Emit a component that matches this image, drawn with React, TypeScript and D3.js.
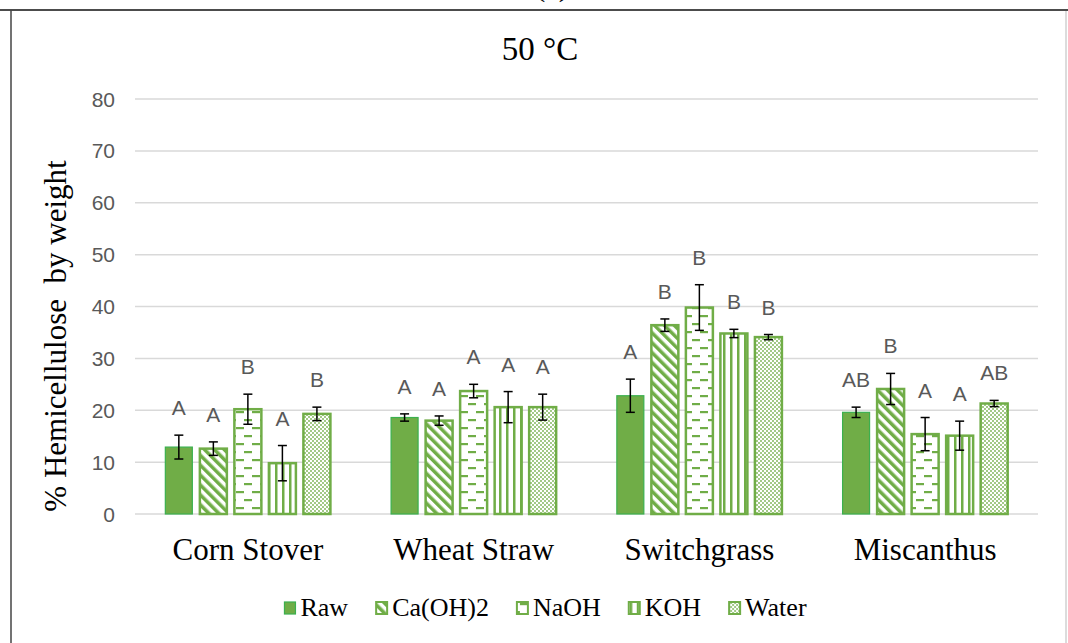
import * as d3 from 'd3';
import { useRef, useEffect } from 'react';

// feedstocks and pretreatments
const categories = ['Corn Stover', 'Wheat Straw', 'Switchgrass', 'Miscanthus'];
const treatments = ['Raw', 'Ca(OH)2', 'NaOH', 'KOH', 'Water'];

// % hemicellulose by weight, one array per pretreatment (same order as categories)
const rawValues = [12.9, 18.6, 22.8, 19.6];
const caValues = [12.6, 18.0, 36.4, 24.1];
const naohValues = [20.2, 23.7, 39.8, 15.4];
const kohValues = [9.8, 20.6, 34.8, 15.1];
const waterValues = [19.3, 20.6, 34.1, 21.3];

// error bar half widths
const rawErr = [2.3, 0.7, 3.2, 1.0];
const caErr = [1.3, 0.9, 1.2, 3.0];
const naohErr = [2.9, 1.3, 4.4, 3.2];
const kohErr = [3.4, 3.0, 0.8, 2.8];
const waterErr = [1.3, 2.5, 0.5, 0.6];

// significance letters
const rawLetters = ['A', 'A', 'A', 'AB'];
const caLetters = ['A', 'A', 'B', 'B'];
const naohLetters = ['B', 'A', 'B', 'A'];
const kohLetters = ['A', 'A', 'B', 'A'];
const waterLetters = ['B', 'A', 'B', 'AB'];

const yTicks = [0, 10, 20, 30, 40, 50, 60, 70, 80];

const GREEN = '#70AD47';

const App = () => {
    const ref = useRef<SVGSVGElement>(null);

    useEffect(() => {
        if (!ref.current) return;
        const svg = d3.select(ref.current);
        svg.selectAll('*').remove();

        const width = 1068, height = 643;
        const plot = { left: 135, right: 1038, top: 99, bottom: 514 };

        const values = [rawValues, caValues, naohValues, kohValues, waterValues];
        const errs = [rawErr, caErr, naohErr, kohErr, waterErr];
        const letters = [rawLetters, caLetters, naohLetters, kohLetters, waterLetters];

        const rows = categories.flatMap((c, ci) => treatments.map((t, ti) => ({
            cat: c, tr: t, ti,
            v: values[ti][ci], e: errs[ti][ci], l: letters[ti][ci],
        })));

        // patterns
        const defs = svg.append('defs');
        const pCa = defs.append('pattern').attr('id', 'p-ca').attr('patternUnits', 'userSpaceOnUse')
            .attr('width', 7).attr('height', 7).attr('patternTransform', 'rotate(-45)');
        pCa.append('rect').attr('width', 7).attr('height', 7).attr('fill', '#fff');
        pCa.append('rect').attr('width', 3.5).attr('height', 7).attr('fill', GREEN);

        const pNa = defs.append('pattern').attr('id', 'p-naoh').attr('patternUnits', 'userSpaceOnUse')
            .attr('width', 16).attr('height', 16);
        pNa.append('rect').attr('width', 16).attr('height', 16).attr('fill', '#fff');
        pNa.append('rect').attr('x', 4).attr('y', 3).attr('width', 8).attr('height', 2.2).attr('fill', GREEN);
        pNa.append('rect').attr('x', 12).attr('y', 11).attr('width', 4).attr('height', 2.2).attr('fill', GREEN);
        pNa.append('rect').attr('x', 0).attr('y', 11).attr('width', 4).attr('height', 2.2).attr('fill', GREEN);

        const pK = defs.append('pattern').attr('id', 'p-koh').attr('patternUnits', 'userSpaceOnUse')
            .attr('width', 7).attr('height', 7);
        pK.append('rect').attr('width', 7).attr('height', 7).attr('fill', '#fff');
        pK.append('rect').attr('x', 2).attr('width', 2.5).attr('height', 7).attr('fill', GREEN);

        const pW = defs.append('pattern').attr('id', 'p-water').attr('patternUnits', 'userSpaceOnUse')
            .attr('width', 4).attr('height', 4);
        pW.append('rect').attr('width', 4).attr('height', 4).attr('fill', '#fff');
        pW.append('rect').attr('width', 2).attr('height', 2).attr('fill', GREEN).attr('opacity', 0.65);
        pW.append('rect').attr('x', 2).attr('y', 2).attr('width', 2).attr('height', 2).attr('fill', GREEN).attr('opacity', 0.65);

        const fills = [GREEN, 'url(#p-ca)', 'url(#p-naoh)', 'url(#p-koh)', 'url(#p-water)'];
        const strokes = ['#3BB04F', GREEN, GREEN, GREEN, GREEN];

        // frame
        svg.append('rect').attr('width', width).attr('height', height).attr('fill', '#fff');
        svg.append('line').attr('x1', 0).attr('x2', width).attr('y1', 10).attr('y2', 10)
            .attr('stroke', '#111').attr('stroke-width', 1.5);
        svg.append('line').attr('x1', 11).attr('x2', 11).attr('y1', 10).attr('y2', height)
            .attr('stroke', '#444').attr('stroke-width', 1.5);
        svg.append('line').attr('x1', 1066).attr('x2', 1066).attr('y1', 11).attr('y2', height)
            .attr('stroke', '#d0d0d0').attr('stroke-width', 1.5);

        // panel label, cut off by the top edge as in the source figure
        svg.append('text').attr('x', 552).attr('y', -4).attr('text-anchor', 'middle')
            .style('font-family', '"Liberation Serif", "Times New Roman", serif').style('font-size', '30px')
            .text('(a)');

        const x0 = d3.scaleBand<string>().domain(categories).range([plot.left, plot.right]).padding(0);
        const x1 = d3.scaleBand<string>().domain(treatments).range([0, x0.bandwidth()])
            .paddingInner(0.16).paddingOuter(0.85);
        const y = d3.scaleLinear().domain([0, 80]).range([plot.bottom, plot.top]);

        // grid
        svg.append('g').selectAll('line').data(yTicks).enter().append('line')
            .attr('x1', plot.left).attr('x2', plot.right)
            .attr('y1', d => y(d)).attr('y2', d => y(d))
            .attr('stroke', '#D9D9D9').attr('stroke-width', 1.5);

        const sans = '"Liberation Sans", Arial, sans-serif';
        svg.append('g').selectAll('text').data(yTicks).enter().append('text')
            .attr('x', 115).attr('y', d => y(d)).attr('dy', '0.36em').attr('text-anchor', 'end')
            .style('font-family', sans).style('font-size', '21px')
            .style('fill', '#595959').text(d => d);

        // bars
        const serif = '"Liberation Serif", "Times New Roman", serif';
        svg.append('g').selectAll('rect').data(rows).enter().append('rect')
            .attr('x', d => x0(d.cat)! + x1(d.tr)! + 1)
            .attr('y', d => y(d.v))
            .attr('width', x1.bandwidth() - 2)
            .attr('height', d => plot.bottom - y(d.v))
            .attr('fill', d => fills[d.ti])
            .attr('stroke', d => strokes[d.ti])
            .attr('stroke-width', d => d.ti === 0 ? 1.2 : 2.5);

        // error bars
        const eb = svg.append('g').attr('stroke', '#000').attr('stroke-width', 1.5);
        rows.forEach(d => {
            const cx = x0(d.cat)! + x1(d.tr)! + x1.bandwidth() / 2;
            eb.append('line').attr('x1', cx).attr('x2', cx).attr('y1', y(d.v + d.e)).attr('y2', y(d.v - d.e));
            eb.append('line').attr('x1', cx - 4.5).attr('x2', cx + 4.5).attr('y1', y(d.v + d.e)).attr('y2', y(d.v + d.e));
            eb.append('line').attr('x1', cx - 4.5).attr('x2', cx + 4.5).attr('y1', y(d.v - d.e)).attr('y2', y(d.v - d.e));
        });

        // letters
        svg.append('g').selectAll('text').data(rows).enter().append('text')
            .attr('x', d => x0(d.cat)! + x1(d.tr)! + x1.bandwidth() / 2)
            .attr('y', d => y(d.v + d.e) - 20)
            .attr('text-anchor', 'middle')
            .style('font-family', sans).style('font-size', '21px')
            .style('fill', '#595959').text(d => d.l);

        // category labels
        svg.append('g').selectAll('text').data(categories).enter().append('text')
            .attr('x', d => x0(d)! + x0.bandwidth() / 2).attr('y', 560)
            .attr('text-anchor', 'middle')
            .style('font-family', serif).style('font-size', '31px').style('fill', '#000')
            .text(d => d);

        // title
        svg.append('text').attr('x', 540).attr('y', 60).attr('text-anchor', 'middle')
            .style('font-family', serif).style('font-size', '33px').text('50 °C');

        // y title
        svg.append('text').attr('transform', 'translate(66,336) rotate(-90)').attr('text-anchor', 'middle')
            .style('font-family', serif).style('font-size', '31px').style('white-space', 'pre')
            .text('% Hemicellulose  by weight');

        // legend
        const lg = svg.append('g');
        let cursor = 0;
        treatments.forEach((t, i) => {
            const item = lg.append('g').attr('transform', `translate(${cursor},0)`);
            item.append('rect').attr('x', 1).attr('y', -14).attr('width', 11).attr('height', 12)
                .attr('fill', fills[i]).attr('stroke', strokes[i]).attr('stroke-width', i === 0 ? 1.2 : 2);
            const txt = item.append('text').attr('x', 17).attr('y', 0)
                .style('font-family', serif).style('font-size', '26px').text(t);
            const w = (txt.node() as SVGTextElement).getComputedTextLength();
            cursor += 17 + w + 27;
        });
        const total = cursor - 27;
        lg.attr('transform', `translate(${545 - total / 2},616)`);
    }, []);

    return (
        <svg ref={ref} width={1068} height={643}
            style={{ position: 'absolute', left: 0, top: 0, display: 'block' }} />
    );
};

export default App;
